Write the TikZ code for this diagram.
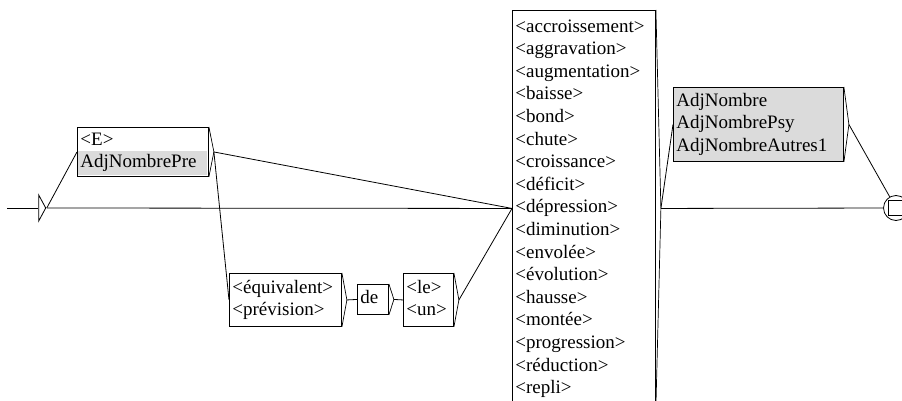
\documentclass[tikz,border=0pt]{standalone}
\usepackage{fontspec}
\setmainfont{Liberation Serif}
\usetikzlibrary{shapes.geometric}
\colorlet{subgraph}{black!14}

\begin{document}
\begin{tikzpicture}[x=1pt, y=-1pt, line width=.8pt,
    box/.style={draw, line width=.9pt, anchor=north west, align=left, inner xsep=3pt, inner ysep=0pt, font=\fontsize{19}{22.6}\selectfont},
    bracket/.style={line width=.7pt}]
    \clip (0, 0) rectangle (902, 401);
    \coordinate (entry) at (7, 208);
    \node [isosceles triangle, isosceles triangle stretches, draw, minimum height=7pt, minimum width=26pt, inner sep=0pt] (init) at (42, 208) {};
    \fill [subgraph] (78, 151) rectangle (207, 175);
    \node [box, text width=125pt, minimum height=49pt] (e) at (77, 127) {\strut<E>\\AdjNombrePre\strut};
    \node [box, text width=106pt, minimum height=53pt] (eq) at (229, 273) {\strut<équivalent>\\<prévision>\strut};
    \node [box, text width=25pt, minimum height=30pt] (de) at (357, 284) {\strut de};
    \node [box, text width=44pt, minimum height=53pt] (le) at (403, 273) {\strut<le>\\<un>\strut};
    \node [box, text width=137pt, minimum height=396pt] (big) at (512, 10) {\strut<accroissement>\\<aggravation>\\<augmentation>\\<baisse>\\<bond>\\<chute>\\<croissance>\\<déficit>\\<dépression>\\<diminution>\\<envolée>\\<évolution>\\<hausse>\\<montée>\\<progression>\\<réduction>\\<repli>\strut};
    \node [box, fill=subgraph, text width=164pt, minimum height=74pt] (adj) at (673, 87) {\strut AdjNombre\\AdjNombrePsy\\AdjNombreAutres1\strut};
    \node [circle, draw, minimum size=25pt, inner sep=0pt] (final) at (896, 208) {};
    \node [draw, minimum size=15pt, inner sep=0pt] (final-sq) at (final) {};
    \foreach \b in {e, eq, de, le, big, adj}
        \draw [bracket] (\b.north east) -- ([xshift=5pt]\b.east) coordinate (\b-out) -- (\b.south east);
    \draw (entry) -- (init.west);
    \draw (init.apex) -- (e.west);
    \draw (init.apex) -- (big.west);
    \draw (e-out) -- (big.west);
    \draw (e-out) -- (eq.west);
    \draw (eq-out) -- (de.west);
    \draw (de-out) -- (le.west);
    \draw (le-out) -- (big.west);
    \draw (big-out) -- (adj.west);
    \draw (big-out) -- (final);
    \draw (adj-out) -- (final);
\end{tikzpicture}
\end{document}
